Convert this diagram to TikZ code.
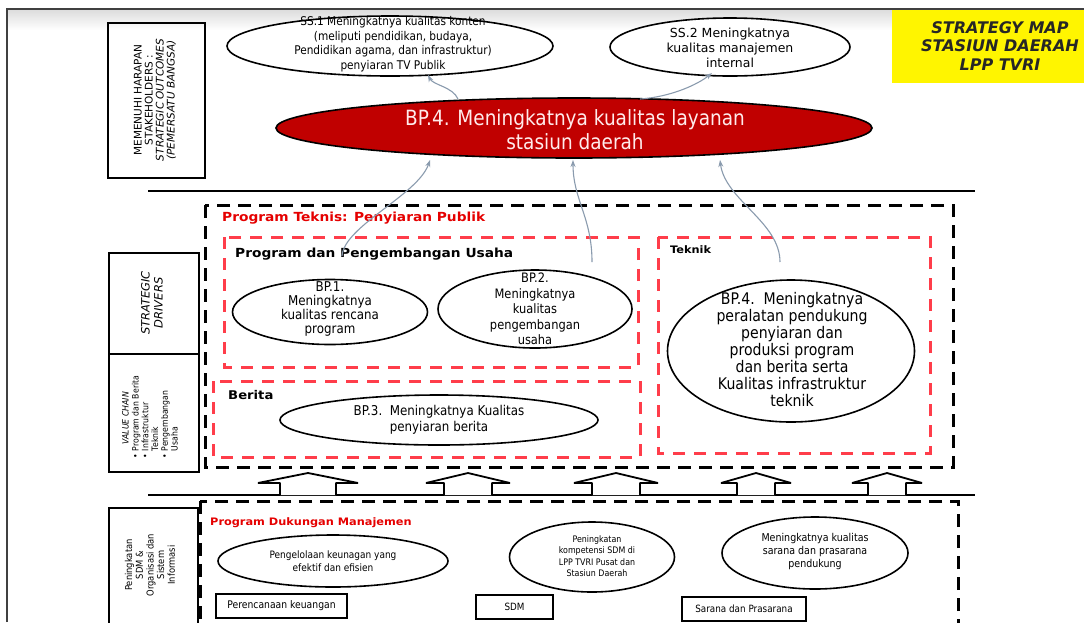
\documentclass[tikz,border=0pt]{standalone}
\usepackage{fontspec}
\setmainfont{DejaVu Sans}
\newfontfamily\tah{DejaVu Sans}[FakeStretch=0.88]
\newfontfamily\verd{DejaVu Sans}[FakeStretch=1.1]
\usetikzlibrary{shapes.geometric,arrows.meta}
\definecolor{dred}{HTML}{C00000}
\definecolor{lred}{HTML}{FF3D4A}
\definecolor{tred}{HTML}{E50000}
\definecolor{conncol}{HTML}{8A9BAE}
\definecolor{ylw}{HTML}{FFF500}
\tikzset{
  ell/.style={ellipse, draw=black, line width=1.6pt, fill=white, inner sep=0pt},
  etext/.style={inner sep=0pt, align=center},
  bdash/.style={draw=black, line width=3pt, dash pattern=on 13pt off 8pt},
  rdash/.style={draw=lred, line width=3pt, dash pattern=on 12pt off 9pt},
  sidebox/.style={draw=black, line width=1.6pt, inner sep=0pt, rectangle},
  smallbox/.style={draw=black, line width=1.4pt, inner sep=0pt, rectangle, fill=white},
  connector/.style={draw=conncol, line width=1.1pt, -{Stealth[length=7pt,width=5pt]}},
  upar/.style={draw=black, line width=1.8pt, fill=white, line join=bevel},
  ttl/.style={inner sep=0pt, anchor=west},
  pics/uparr/.style 2 args={code={\draw[upar] (-#1,0) -- (-#1,-12) -- (-#2,-12) -- (0,-22) -- (#2,-12) -- (#1,-12) -- (#1,0);}},
}
\begin{document}
\begin{tikzpicture}[x=1pt,y=-1pt]
\useasboundingbox (0,0) rectangle (1084,622);
\fill[white] (0,0) rectangle (1084,622);
\shade[top color=black!14, bottom color=white] (7,9) rectangle (1084,30);
\draw[black!75, line width=1.3pt] (7,622) -- (7,9) -- (1084,9);

% title box
\node[fill=ylw, minimum width=200pt, minimum height=73pt, inner sep=0pt, anchor=north west] (titlebox) at (892,10) {};
\node[font=\bfseries\itshape\fontsize{16}{18.5}\selectfont, text=black!85, align=center, inner sep=0pt] (titletext) at (1000,46) {STRATEGY MAP\\STASIUN DAERAH\\LPP TVRI};

% side boxes
\node[sidebox, minimum width=97pt, minimum height=155pt] (sb1) at (156.5,100.5) {};
\node[rotate=90, align=center, inner sep=0pt, font=\fontsize{10.5}{11}\selectfont] (sb1t) at (155,100) {MEMENUHI HARAPAN\\STAKEHOLDERS :\\\textit{STRATEGIC OUTCOMES}\\\textit{(PEMERSATU BANGSA)}};
\node[sidebox, minimum width=90pt, minimum height=101pt] (sb2) at (154,303.5) {};
\node[rotate=90, align=center, inner sep=0pt, font=\itshape\fontsize{11.5}{13}\selectfont] (sb2t) at (152,303) {STRATEGIC\\DRIVERS};
\node[sidebox, minimum width=90pt, minimum height=118pt] (sb3) at (154,413) {};
\node[rotate=90, align=left, inner sep=0pt, font=\tah\fontsize{8.8}{9.8}\selectfont] (sb3t) at (150,417) {\hspace*{1.6em}\textit{VALUE CHAIN}\\• Program dan Berita\\• Infrastruktur\\\phantom{•} Teknik\\• Pengembangan\\\phantom{•} Usaha};
\node[sidebox, minimum width=89pt, minimum height=134pt] (sb4) at (153.5,575) {};
\node[rotate=90, align=center, inner sep=0pt, font=\tah\fontsize{9.5}{10.7}\selectfont] (sb4t) at (150,565) {Peningkatan\\SDM \&\\Organisasi dan\\Sistem\\Informasi};

% separator lines
\draw[line width=2.6pt] (148,191) -- (975,191);
\draw[line width=2pt] (148,495) -- (975,495);

% dashed frames
\draw[bdash] (205,205) rectangle (953,467);
\draw[bdash] (200,501) rectangle (958,660);
\draw[rdash] (224,237) rectangle (638,367);
\draw[rdash] (213,381) rectangle (640,457);
\draw[rdash] (658,237) rectangle (930,453);

% up arrows
\pic at (308,495) {uparr={28}{50}};
\pic at (468,495) {uparr={24}{42}};
\pic at (616,495) {uparr={24}{42}};
\pic at (756,495) {uparr={19}{35}};
\pic at (887,495) {uparr={19}{35}};

% titles
\node[ttl, text=tred, font=\verd\bfseries\fontsize{12.5}{14}\selectfont] (pt) at (222,218) {Program Teknis: Penyiaran Publik};
\node[ttl, font=\verd\bfseries\fontsize{12.5}{14}\selectfont] (ppu) at (235,254) {Program dan Pengembangan Usaha};
\node[ttl, font=\verd\bfseries\fontsize{12}{14}\selectfont] (ber) at (228,395) {Berita};
\node[ttl, font=\verd\bfseries\fontsize{10.3}{12}\selectfont] (tek) at (670,250) {Teknik};
\node[ttl, text=tred, font=\verd\bfseries\fontsize{10.3}{12}\selectfont] (pdm) at (210,523) {Program Dukungan Manajemen};

% top ellipses
\node[ell, minimum width=326pt, minimum height=60pt] (ss1) at (390,46) {};
\node[etext, font=\tah\fontsize{12}{14.5}\selectfont] (ss1t) at (393,44) {SS.1 Meningkatnya kualitas konten\\(meliputi pendidikan, budaya,\\Pendidikan agama, dan infrastruktur)\\penyiaran TV Publik};
\node[ell, minimum width=240pt, minimum height=58pt] (ss2) at (730,47) {};
\node[etext, font=\fontsize{12.5}{15}\selectfont] (ss2t) at (730,48) {SS.2 Meningkatnya\\kualitas manajemen\\internal};

% main red ellipse
\node[ell, fill=dred, minimum width=596pt, minimum height=60pt] (bp4) at (574,128) {};
\node[etext, text=red!8, font=\tah\fontsize{21}{24}\selectfont] (bp4t) at (575,130) {BP.4. Meningkatnya kualitas layanan\\stasiun daerah};

% middle ellipses
\node[ell, minimum width=195pt, minimum height=65pt] (bp1) at (330,312) {};
\node[etext, font=\tah\fontsize{13.5}{14}\selectfont] (bp1t) at (330,309) {BP.1.\\Meningkatnya\\kualitas rencana\\program};
\node[ell, minimum width=194pt, minimum height=78pt] (bp2) at (535,309) {};
\node[etext, font=\tah\fontsize{13}{15.5}\selectfont] (bp2t) at (535,309) {BP.2.\\Meningkatnya\\kualitas\\pengembangan\\usaha};
\node[ell, minimum width=318pt, minimum height=50pt] (bp3) at (439,420) {};
\node[etext, font=\tah\fontsize{13.5}{15.5}\selectfont] (bp3t) at (439,420) {BP.3.\ \ Meningkatnya Kualitas\\penyiaran berita};
\node[ell, minimum width=247pt, minimum height=142pt] (bp4k) at (791,351) {};
\node[etext, font=\tah\fontsize{16}{17}\selectfont] (bp4kt) at (792,350) {BP.4.\ \ Meningkatnya\\peralatan pendukung\\penyiaran dan\\produksi program\\dan berita serta\\Kualitas infrastruktur\\teknik};

% bottom ellipses and boxes
\node[ell, minimum width=230pt, minimum height=52pt] (pk) at (333,561) {};
\node[etext, font=\tah\fontsize{10.2}{13}\selectfont] (pkt) at (333,561.5) {Pengelolaan keunagan yang\\efektif dan efisien};
\node[ell, minimum width=165pt, minimum height=70pt] (ps) at (592,557) {};
\node[etext, font=\tah\fontsize{9}{11.5}\selectfont] (pst) at (597,556) {Peningkatan\\kompetensi SDM di\\LPP TVRI Pusat dan\\Stasiun Daerah};
\node[ell, minimum width=186pt, minimum height=72pt] (pm) at (815,553) {};
\node[etext, font=\tah\fontsize{10.8}{13}\selectfont] (pmt) at (815,552) {Meningkatnya kualitas\\sarana dan prasarana\\pendukung};
\node[smallbox, minimum width=131pt, minimum height=24pt, font=\tah\fontsize{10.5}{12}\selectfont] (pr) at (281.5,606) {Perencanaan keuangan};
\node[smallbox, minimum width=77pt, minimum height=24pt, font=\tah\fontsize{10}{12}\selectfont] (sdm) at (514.5,607) {SDM};
\node[smallbox, minimum width=124pt, minimum height=24pt, font=\tah\fontsize{10}{12}\selectfont] (sp) at (744,609) {Sarana dan Prasarana};

% connectors
\coordinate (c1s) at (342,256);
\coordinate (c1e) at (430,160);
\coordinate (c2s) at (592,262);
\coordinate (c2e) at (573,160);
\coordinate (c3s) at (780,262);
\coordinate (c3e) at (720,160);
\coordinate (c4s) at (458,99);
\coordinate (c4e) at (428,75);
\coordinate (c5s) at (640,99);
\coordinate (c5e) at (712,73);
\draw[connector] (c1s) .. controls +(2,-30) and +(-12,35) .. (c1e);
\draw[connector] (c2s) .. controls +(0,-45) and +(0,40) .. (c2e);
\draw[connector] (c3s) .. controls +(0,-40) and +(5,40) .. (c3e);
\draw[connector] (c4s) .. controls +(-5,-12) and +(5,10) .. (c4e);
\draw[connector] (c5s) .. controls +(30,-2) and +(-15,12) .. (c5e);
\end{tikzpicture}
\end{document}
